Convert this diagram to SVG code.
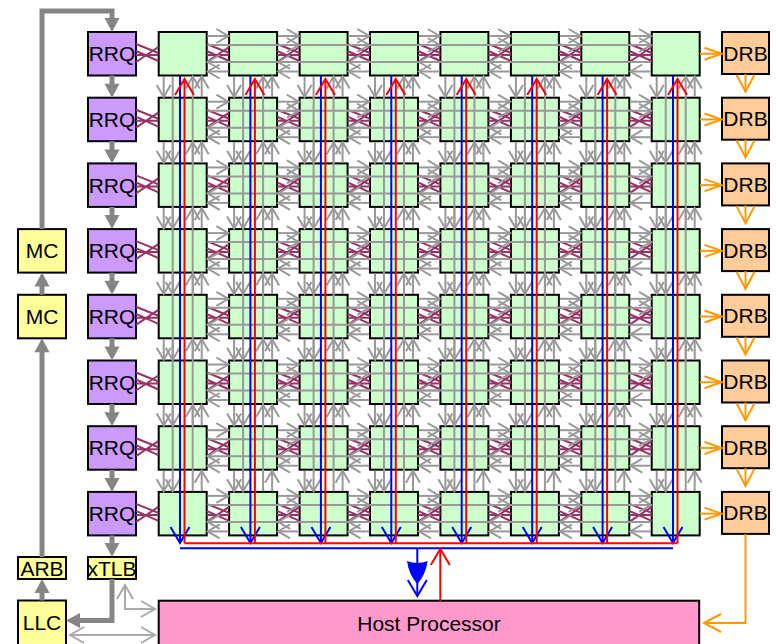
<svg xmlns="http://www.w3.org/2000/svg" width="776" height="644" viewBox="0 0 776 644">
<style>
.tile rect{fill:#ccffcc;stroke:#000;stroke-width:2}
.rrq rect{fill:#cc99ff;stroke:#000;stroke-width:2}
.drb rect{fill:#ffcc99;stroke:#000;stroke-width:2}
.yel rect{fill:#ffff99;stroke:#000;stroke-width:2}
.host rect{fill:#ff99cc;stroke:#000;stroke-width:2}
text{font-family:"Liberation Sans",Arial,sans-serif;font-size:21px;fill:#000;text-anchor:middle}
.thick{fill:none;stroke:#858585;stroke-width:5;marker-end:url(#at)}
.lg{fill:none;stroke:#aaaaaa;stroke-width:2;marker-start:url(#al);marker-end:url(#al)}
.or1{fill:none;stroke:#ff9900;stroke-width:2;marker-end:url(#ao1)}
.or2{fill:none;stroke:#ff9900;stroke-width:2;marker-end:url(#ao2)}
.bl{fill:none;stroke:#0000ff;stroke-width:2}
.rd{fill:none;stroke:#ff0000;stroke-width:2}
.bla{marker-end:url(#ab)}
.rda{marker-end:url(#ar)}
</style>
<defs>
<marker id="ag" markerUnits="userSpaceOnUse" markerWidth="40" markerHeight="40" viewBox="-20 -20 40 40" refX="0" refY="0" orient="auto"><path d="M-12,-7 L0,0 L-12,7" fill="none" stroke="#999999" stroke-width="2"/></marker>
<marker id="ab" markerUnits="userSpaceOnUse" markerWidth="40" markerHeight="40" viewBox="-20 -20 40 40" refX="0" refY="0" orient="auto"><path d="M-16,-9.5 L0,0 L-16,9.5" fill="none" stroke="#0000ff" stroke-width="2"/></marker>
<marker id="ar" markerUnits="userSpaceOnUse" markerWidth="40" markerHeight="40" viewBox="-20 -20 40 40" refX="0" refY="0" orient="auto"><path d="M-16,-9.5 L0,0 L-16,9.5" fill="none" stroke="#ff0000" stroke-width="2"/></marker>
<marker id="ao1" markerUnits="userSpaceOnUse" markerWidth="40" markerHeight="40" viewBox="-20 -20 40 40" refX="0" refY="0" orient="auto"><path d="M-17,-6 L0,0 L-17,6" fill="none" stroke="#ff9900" stroke-width="2"/></marker>
<marker id="ao2" markerUnits="userSpaceOnUse" markerWidth="40" markerHeight="40" viewBox="-20 -20 40 40" refX="0" refY="0" orient="auto"><path d="M-17,-9 L0,0 L-17,9" fill="none" stroke="#ff9900" stroke-width="2"/></marker>
<marker id="at" markerUnits="userSpaceOnUse" markerWidth="40" markerHeight="40" viewBox="-20 -20 40 40" refX="0" refY="0" orient="auto"><path d="M-8,-7.5 L6,0 L-8,7.5 Z" fill="#858585"/></marker>
<marker id="al" markerUnits="userSpaceOnUse" markerWidth="40" markerHeight="40" viewBox="-20 -20 40 40" refX="0" refY="0" orient="auto-start-reverse"><path d="M-14,-8 L0,0 L-14,8" fill="none" stroke="#aaaaaa" stroke-width="2"/></marker>
<g id="mz" fill="none" stroke="#993366" stroke-width="2"><path d="M48,12 L70.4,21 M48,19 L70.4,29 M48,30 L70.4,15 M48,23 L70.4,23"/></g>
<g id="hn" fill="none" stroke="#999999" stroke-width="2" marker-end="url(#ag)"><path d="M49,4 H69.7"/><path d="M69.7,39.5 H49"/></g>
<g id="hx" fill="none" stroke="#999999" stroke-width="2" marker-end="url(#ag)"><path d="M49,13 H140.2"/><path d="M140.2,30 H49"/></g>
<g id="vn" fill="none" stroke="#999999" stroke-width="2" marker-end="url(#ag)"><path d="M5,44.5 V65"/><path d="M43,65 V44.5"/></g>
<g id="vx" fill="none" stroke="#999999" stroke-width="2" marker-end="url(#ag)"><path d="M14,44.5 V130.7"/><path d="M34,130.7 V44.5"/></g>
<g id="hrow">
<use href="#mz" x="88"/><use href="#mz" x="158.7"/><use href="#mz" x="229.1"/><use href="#mz" x="299.6"/><use href="#mz" x="370"/><use href="#mz" x="440.4"/><use href="#mz" x="510.9"/><use href="#mz" x="581.3"/>
<use href="#hn" x="158.7"/><use href="#hn" x="229.1"/><use href="#hn" x="299.6"/><use href="#hn" x="370"/><use href="#hn" x="440.4"/><use href="#hn" x="510.9"/><use href="#hn" x="581.3"/>
<use href="#hx" x="158.7"/><use href="#hx" x="229.1"/><use href="#hx" x="299.6"/><use href="#hx" x="370"/><use href="#hx" x="440.4"/><use href="#hx" x="510.9"/>
</g>
<g id="vcol">
<use href="#vn" y="32"/><use href="#vn" y="97.7"/><use href="#vn" y="163.4"/><use href="#vn" y="229.1"/><use href="#vn" y="294.8"/><use href="#vn" y="360.5"/><use href="#vn" y="426.2"/>
<use href="#vx" y="32"/><use href="#vx" y="97.7"/><use href="#vx" y="163.4"/><use href="#vx" y="229.1"/><use href="#vx" y="294.8"/><use href="#vx" y="360.5"/>
</g>
</defs>
<rect width="776" height="644" fill="#ffffff"/>
<g id="nodes">
<g class="tile">
<g id="t0_0"><rect x="158.7" y="32" width="48" height="43.5"/></g><g id="t0_1"><rect x="229.1" y="32" width="48" height="43.5"/></g><g id="t0_2"><rect x="299.6" y="32" width="48" height="43.5"/></g><g id="t0_3"><rect x="370" y="32" width="48" height="43.5"/></g><g id="t0_4"><rect x="440.4" y="32" width="48" height="43.5"/></g><g id="t0_5"><rect x="510.9" y="32" width="48" height="43.5"/></g><g id="t0_6"><rect x="581.3" y="32" width="48" height="43.5"/></g><g id="t0_7"><rect x="651.7" y="32" width="48" height="43.5"/></g>
<g id="t1_0"><rect x="158.7" y="97.7" width="48" height="43.5"/></g><g id="t1_1"><rect x="229.1" y="97.7" width="48" height="43.5"/></g><g id="t1_2"><rect x="299.6" y="97.7" width="48" height="43.5"/></g><g id="t1_3"><rect x="370" y="97.7" width="48" height="43.5"/></g><g id="t1_4"><rect x="440.4" y="97.7" width="48" height="43.5"/></g><g id="t1_5"><rect x="510.9" y="97.7" width="48" height="43.5"/></g><g id="t1_6"><rect x="581.3" y="97.7" width="48" height="43.5"/></g><g id="t1_7"><rect x="651.7" y="97.7" width="48" height="43.5"/></g>
<g id="t2_0"><rect x="158.7" y="163.4" width="48" height="43.5"/></g><g id="t2_1"><rect x="229.1" y="163.4" width="48" height="43.5"/></g><g id="t2_2"><rect x="299.6" y="163.4" width="48" height="43.5"/></g><g id="t2_3"><rect x="370" y="163.4" width="48" height="43.5"/></g><g id="t2_4"><rect x="440.4" y="163.4" width="48" height="43.5"/></g><g id="t2_5"><rect x="510.9" y="163.4" width="48" height="43.5"/></g><g id="t2_6"><rect x="581.3" y="163.4" width="48" height="43.5"/></g><g id="t2_7"><rect x="651.7" y="163.4" width="48" height="43.5"/></g>
<g id="t3_0"><rect x="158.7" y="229.1" width="48" height="43.5"/></g><g id="t3_1"><rect x="229.1" y="229.1" width="48" height="43.5"/></g><g id="t3_2"><rect x="299.6" y="229.1" width="48" height="43.5"/></g><g id="t3_3"><rect x="370" y="229.1" width="48" height="43.5"/></g><g id="t3_4"><rect x="440.4" y="229.1" width="48" height="43.5"/></g><g id="t3_5"><rect x="510.9" y="229.1" width="48" height="43.5"/></g><g id="t3_6"><rect x="581.3" y="229.1" width="48" height="43.5"/></g><g id="t3_7"><rect x="651.7" y="229.1" width="48" height="43.5"/></g>
<g id="t4_0"><rect x="158.7" y="294.8" width="48" height="43.5"/></g><g id="t4_1"><rect x="229.1" y="294.8" width="48" height="43.5"/></g><g id="t4_2"><rect x="299.6" y="294.8" width="48" height="43.5"/></g><g id="t4_3"><rect x="370" y="294.8" width="48" height="43.5"/></g><g id="t4_4"><rect x="440.4" y="294.8" width="48" height="43.5"/></g><g id="t4_5"><rect x="510.9" y="294.8" width="48" height="43.5"/></g><g id="t4_6"><rect x="581.3" y="294.8" width="48" height="43.5"/></g><g id="t4_7"><rect x="651.7" y="294.8" width="48" height="43.5"/></g>
<g id="t5_0"><rect x="158.7" y="360.5" width="48" height="43.5"/></g><g id="t5_1"><rect x="229.1" y="360.5" width="48" height="43.5"/></g><g id="t5_2"><rect x="299.6" y="360.5" width="48" height="43.5"/></g><g id="t5_3"><rect x="370" y="360.5" width="48" height="43.5"/></g><g id="t5_4"><rect x="440.4" y="360.5" width="48" height="43.5"/></g><g id="t5_5"><rect x="510.9" y="360.5" width="48" height="43.5"/></g><g id="t5_6"><rect x="581.3" y="360.5" width="48" height="43.5"/></g><g id="t5_7"><rect x="651.7" y="360.5" width="48" height="43.5"/></g>
<g id="t6_0"><rect x="158.7" y="426.2" width="48" height="43.5"/></g><g id="t6_1"><rect x="229.1" y="426.2" width="48" height="43.5"/></g><g id="t6_2"><rect x="299.6" y="426.2" width="48" height="43.5"/></g><g id="t6_3"><rect x="370" y="426.2" width="48" height="43.5"/></g><g id="t6_4"><rect x="440.4" y="426.2" width="48" height="43.5"/></g><g id="t6_5"><rect x="510.9" y="426.2" width="48" height="43.5"/></g><g id="t6_6"><rect x="581.3" y="426.2" width="48" height="43.5"/></g><g id="t6_7"><rect x="651.7" y="426.2" width="48" height="43.5"/></g>
<g id="t7_0"><rect x="158.7" y="491.9" width="48" height="43.5"/></g><g id="t7_1"><rect x="229.1" y="491.9" width="48" height="43.5"/></g><g id="t7_2"><rect x="299.6" y="491.9" width="48" height="43.5"/></g><g id="t7_3"><rect x="370" y="491.9" width="48" height="43.5"/></g><g id="t7_4"><rect x="440.4" y="491.9" width="48" height="43.5"/></g><g id="t7_5"><rect x="510.9" y="491.9" width="48" height="43.5"/></g><g id="t7_6"><rect x="581.3" y="491.9" width="48" height="43.5"/></g><g id="t7_7"><rect x="651.7" y="491.9" width="48" height="43.5"/></g>
</g>
<g class="rrq">
<g id="rrq0"><rect x="88" y="32" width="48" height="43.5"/><text x="112" y="61.2">RRQ</text></g>
<g id="rrq1"><rect x="88" y="97.7" width="48" height="43.5"/><text x="112" y="126.9">RRQ</text></g>
<g id="rrq2"><rect x="88" y="163.4" width="48" height="43.5"/><text x="112" y="192.6">RRQ</text></g>
<g id="rrq3"><rect x="88" y="229.1" width="48" height="43.5"/><text x="112" y="258.3">RRQ</text></g>
<g id="rrq4"><rect x="88" y="294.8" width="48" height="43.5"/><text x="112" y="324">RRQ</text></g>
<g id="rrq5"><rect x="88" y="360.5" width="48" height="43.5"/><text x="112" y="389.7">RRQ</text></g>
<g id="rrq6"><rect x="88" y="426.2" width="48" height="43.5"/><text x="112" y="455.4">RRQ</text></g>
<g id="rrq7"><rect x="88" y="491.9" width="48" height="43.5"/><text x="112" y="521.1">RRQ</text></g>
</g>
<g class="drb">
<g id="drb0"><rect x="722" y="32" width="47" height="42"/><text x="745.5" y="60.5">DRB</text></g>
<g id="drb1"><rect x="722" y="97.7" width="47" height="42"/><text x="745.5" y="126.2">DRB</text></g>
<g id="drb2"><rect x="722" y="163.4" width="47" height="42"/><text x="745.5" y="191.9">DRB</text></g>
<g id="drb3"><rect x="722" y="229.1" width="47" height="42"/><text x="745.5" y="257.6">DRB</text></g>
<g id="drb4"><rect x="722" y="294.8" width="47" height="42"/><text x="745.5" y="323.3">DRB</text></g>
<g id="drb5"><rect x="722" y="360.5" width="47" height="42"/><text x="745.5" y="389">DRB</text></g>
<g id="drb6"><rect x="722" y="426.2" width="47" height="42"/><text x="745.5" y="454.7">DRB</text></g>
<g id="drb7"><rect x="722" y="491.9" width="47" height="42"/><text x="745.5" y="520.4">DRB</text></g>
</g>
<g class="yel">
<g id="mc0"><rect x="18" y="229.1" width="48" height="43.5"/><text x="42" y="258.3">MC</text></g>
<g id="mc1"><rect x="18" y="294.8" width="48" height="43.5"/><text x="42" y="324">MC</text></g>
<g id="arb"><rect x="18" y="557" width="48" height="22"/><text x="42" y="575.5">ARB</text></g>
<g id="xtlb"><rect x="88" y="557" width="48" height="22"/><text x="112" y="575.5">xTLB</text></g>
<g id="llc"><rect x="18" y="600.5" width="48" height="50"/><text x="42" y="630">LLC</text></g>
</g>
<g class="host" id="host"><rect x="158.7" y="600.7" width="540.5" height="50"/><text x="429" y="631">Host Processor</text></g>
</g>
<g id="connectors">
<g id="network">
<use href="#hrow" y="32"/><use href="#hrow" y="97.7"/><use href="#hrow" y="163.4"/><use href="#hrow" y="229.1"/><use href="#hrow" y="294.8"/><use href="#hrow" y="360.5"/><use href="#hrow" y="426.2"/><use href="#hrow" y="491.9"/>
<use href="#vcol" x="158.7"/><use href="#vcol" x="229.1"/><use href="#vcol" x="299.6"/><use href="#vcol" x="370"/><use href="#vcol" x="440.4"/><use href="#vcol" x="510.9"/><use href="#vcol" x="581.3"/><use href="#vcol" x="651.7"/>
</g>
<g id="thick-links">
<path class="thick" d="M42,229.1 V11 H112 V26"/>
<path class="thick" d="M112,75.5 V91.7"/>
<path class="thick" d="M112,141.2 V157.4"/>
<path class="thick" d="M112,206.9 V223.1"/>
<path class="thick" d="M112,272.6 V288.8"/>
<path class="thick" d="M112,338.3 V354.5"/>
<path class="thick" d="M112,404 V420.2"/>
<path class="thick" d="M112,469.7 V485.9"/>
<path class="thick" d="M112,535.4 V551"/>
<path class="thick" d="M112,579 V620.5 H72"/>
<path class="thick" d="M42,600.5 V585"/>
<path class="thick" d="M42,557 V344.3"/>
<path class="thick" d="M42,294.8 V278.6"/>
</g>
<g id="host-links">
<path class="lg" d="M125,585 V609 H155"/>
<path class="lg" d="M70,635 H155"/>
</g>
<g id="orange-links">
<path class="or1" d="M700,53.75 H721.5"/>
<path class="or1" d="M700,119.45 H721.5"/>
<path class="or1" d="M700,185.15 H721.5"/>
<path class="or1" d="M700,250.85 H721.5"/>
<path class="or1" d="M700,316.55 H721.5"/>
<path class="or1" d="M700,382.25 H721.5"/>
<path class="or1" d="M700,447.95 H721.5"/>
<path class="or1" d="M700,513.65 H721.5"/>
<path class="or2" d="M745.5,74 V91.7"/>
<path class="or2" d="M745.5,139.7 V157.4"/>
<path class="or2" d="M745.5,205.4 V223.1"/>
<path class="or2" d="M745.5,271.1 V288.8"/>
<path class="or2" d="M745.5,336.8 V354.5"/>
<path class="or2" d="M745.5,402.5 V420.2"/>
<path class="or2" d="M745.5,468.2 V485.9"/>
<path class="or2" d="M745.5,533.9 V623 H704"/>
</g>
<g id="result-links">
<path class="bl bla" d="M180,75.5 V543"/>
<path class="bl bla" d="M250.4,75.5 V543"/>
<path class="bl bla" d="M320.9,75.5 V543"/>
<path class="bl bla" d="M391.3,75.5 V543"/>
<path class="bl bla" d="M461.7,75.5 V543"/>
<path class="bl bla" d="M532.2,75.5 V543"/>
<path class="bl bla" d="M602.6,75.5 V543"/>
<path class="bl bla" d="M673,75.5 V543"/>
<path class="bl" d="M180,548.3 H673"/>
<path class="bl bla" d="M417.3,548.3 V596"/>
<path d="M407,561 Q409,575 417.3,584 Q425.6,575 427.6,561 Q417.3,565 407,561 Z" fill="#0000ff"/>
</g>
<g id="command-links">
<path class="rd rda" d="M184.5,543.3 V79"/>
<path class="rd rda" d="M254.9,543.3 V79"/>
<path class="rd rda" d="M325.4,543.3 V79"/>
<path class="rd rda" d="M395.8,543.3 V79"/>
<path class="rd rda" d="M466.2,543.3 V79"/>
<path class="rd rda" d="M536.7,543.3 V79"/>
<path class="rd rda" d="M607.1,543.3 V79"/>
<path class="rd rda" d="M677.5,543.3 V79"/>
<path class="rd" d="M184.5,543.3 H677.5"/>
<path class="rd rda" d="M440.3,601 V549"/>
</g>
</g>
</svg>
